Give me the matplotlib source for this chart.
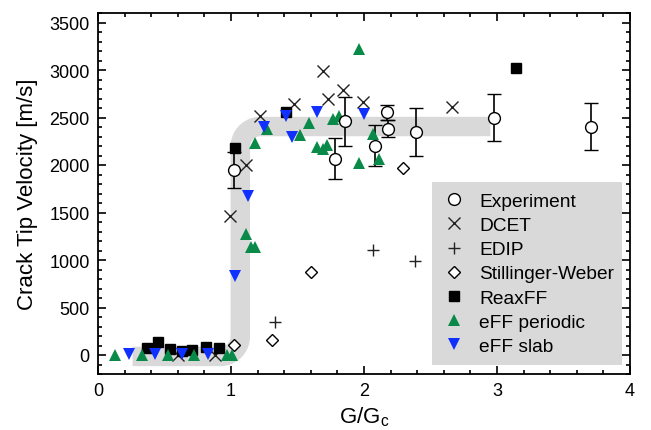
import numpy as np
import matplotlib
matplotlib.use("Agg")
import matplotlib.pyplot as plt
from matplotlib.lines import Line2D
from matplotlib.patches import Rectangle
from matplotlib.transforms import IdentityTransform
from matplotlib.ticker import MultipleLocator

plt.rcParams['font.family'] = ['Liberation Sans', 'DejaVu Sans']

# ---- data ----
exp_x = [1.02, 1.78, 1.86, 2.08, 2.17, 2.18, 2.39, 2.98, 3.71]
exp_y = [1950, 2068, 2458, 2205, 2553, 2384, 2352, 2500, 2405]
exp_err = [190, 211, 253, 211, 75, 90, 253, 248, 243]

dcet_x = [0.60, 0.88, 0.99, 1.11, 1.215, 1.47, 1.69, 1.73, 1.84, 1.99, 2.66]
dcet_y = [0, 0, 1466, 2004, 2521, 2637, 2985, 2690, 2785, 2658, 2610]

edip_x = [1.33, 2.07, 2.38]
edip_y = [348, 1108, 992]

sw_x = [1.02, 1.31, 1.60, 2.29]
sw_y = [105, 158, 876, 1973]

reax_x = [0.37, 0.45, 0.54, 0.63, 0.71, 0.81, 0.91, 1.03, 1.41, 3.14]
reax_y = [74, 137, 63, 42, 53, 84, 74, 2183, 2563, 3017]

effp_x = [0.13, 0.33, 0.53, 0.72, 0.97, 1.01, 1.11, 1.15, 1.18, 1.18, 1.27,
          1.52, 1.59, 1.65, 1.69, 1.72, 1.77, 1.81, 1.96, 1.96, 2.07, 2.11]
effp_y = [0, 0, 0, 0, 0, 0, 1276, 1139, 1139, 2236, 2384,
          2321, 2447, 2194, 2173, 2215, 2479, 2521, 3217, 2025, 2331, 2068]

effs_x = [0.23, 0.43, 0.63, 0.83, 1.03, 1.13, 1.25, 1.41, 1.46, 1.65, 2.00]
effs_y = [10, 10, 10, 10, 833, 1677, 2405, 2521, 2300, 2553, 2542]

# guide band: start, corner x (vertical part), end ; low level, high level
band_x = [0.26, 1.07, 2.95]
band_y = [-15, 2405]

labels = ['Experiment', 'DCET', 'EDIP', 'Stillinger-Weber', 'ReaxFF', 'eFF periodic', 'eFF slab']

fig = plt.figure(figsize=(6.51, 4.31), dpi=100)
ax = fig.add_axes([98/651, 56/431, 532/651, 361/431])

# band path with rounded corners
rx, ry = 20/132.5, 20/0.0948
t = np.linspace(0, np.pi/2, 30)
x0, xc, x1 = band_x
ylo, yhi = band_y
px = [x0, xc - rx]
py = [ylo, ylo]
px += list(xc - rx + rx*np.sin(t))
py += list(ylo + ry - ry*np.cos(t))
px += [xc]
py += [yhi - ry]
px += list(xc + rx - rx*np.cos(t))
py += list(yhi - ry + ry*np.sin(t))
px += [x1]
py += [yhi]
ax.plot(px, py, color='#d9d9d9', lw=14, solid_capstyle='butt', solid_joinstyle='round', zorder=1)

ax.errorbar(exp_x, exp_y, yerr=exp_err, fmt='o', color='black', mfc='white', mec='black',
            ms=8.5, mew=1.0, elinewidth=1.2, capsize=5, capthick=1.2, zorder=3)
ax.plot(dcet_x, dcet_y, 'x', color='#222222', ms=8, mew=1.0, zorder=3)
ax.plot(edip_x, edip_y, '+', color='#222222', ms=8, mew=1.0, zorder=3)
ax.plot(sw_x, sw_y, 'D', color='black', mfc='white', ms=6.5, mew=1.0, zorder=3)
ax.plot(reax_x, reax_y, 's', color='black', ms=7, zorder=3)
ax.plot(effp_x, effp_y, '^', color='#0a8a48', ms=8.5, mew=0, zorder=3)
ax.plot(effs_x, effs_y, 'v', color='#1030ff', ms=8.5, mew=0, zorder=3)

ax.set_xlim(0, 4)
ax.set_ylim(-200, 3600)
ax.xaxis.set_major_locator(MultipleLocator(1))
ax.xaxis.set_minor_locator(MultipleLocator(0.2))
ax.yaxis.set_major_locator(MultipleLocator(500))
ax.yaxis.set_minor_locator(MultipleLocator(100))
ax.tick_params(which='both', direction='in', top=True, right=True, labelsize=13, width=1.2)
ax.tick_params(which='major', length=6, pad=6)
ax.tick_params(which='minor', length=3)
for s in ax.spines.values():
    s.set_linewidth(1.3)
ax.set_xlabel(r'G/G$_\mathregular{c}$', fontsize=16, labelpad=4)
ax.set_ylabel('Crack Tip Velocity [m/s]', fontsize=16, labelpad=8)

handles = [
    Line2D([], [], ls='none', marker='o', mfc='white', mec='black', ms=8.5, mew=1.0),
    Line2D([], [], ls='none', marker='x', color='#222222', ms=8, mew=1.0),
    Line2D([], [], ls='none', marker='+', color='#222222', ms=8, mew=1.0),
    Line2D([], [], ls='none', marker='D', mfc='white', mec='black', ms=6.5, mew=1.0),
    Line2D([], [], ls='none', marker='s', color='black', ms=7),
    Line2D([], [], ls='none', marker='^', color='#0a8a48', ms=8.5, mew=0),
    Line2D([], [], ls='none', marker='v', color='#1030ff', ms=8.5, mew=0),
]
leg = ax.legend(handles, labels, loc='lower right', bbox_to_anchor=(0.985, 0.030),
                borderaxespad=0, frameon=False, fontsize=13.8, labelspacing=0.355,
                handletextpad=0.57, handlelength=1.46, borderpad=0.42)
leg.set_zorder(6)

# grey legend background, slightly taller than the legend content
fig.canvas.draw()
bb = leg.get_window_extent()
vpad = 2.0
bg = Rectangle((bb.x0, bb.y0 - vpad), bb.width, bb.height + 2*vpad,
               transform=IdentityTransform(), facecolor='#d9d9d9', edgecolor='none',
               zorder=5, clip_on=False)
ax.add_artist(bg)

fig.savefig('out.png', dpi=100)
